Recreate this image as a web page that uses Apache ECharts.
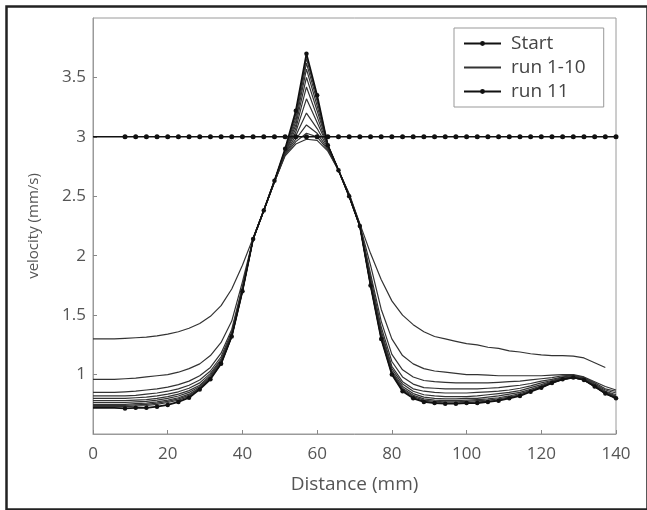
<!DOCTYPE html>
<html>
<head>
<meta charset="utf-8">
<script src="https://cdn.jsdelivr.net/npm/echarts@6/dist/echarts.min.js"></script>
<style>
html,body{margin:0;padding:0;background:#fff;}
#chart{width:647px;height:510px;}
</style>
</head>
<body>
<div id="chart"></div>
<script>
// Distance grid (mm)
const distance = [0,2.86,5.71,8.57,11.43,14.29,17.14,20,22.86,25.71,28.57,31.43,34.29,37.14,40,42.86,45.71,48.57,51.43,54.29,57.14,60,62.86,65.71,68.57,71.43,74.29,77.14,80,82.86,85.71,88.57,91.43,94.29,97.14,100,102.86,105.71,108.57,111.43,114.29,117.14,120,122.86,125.71,128.57,131.43,134.29,137.14,140];

const startVel = [3,3,3,3,3,3,3,3,3,3,3,3,3,3,3,3,3,3,3,3,3,3,3,3,3,3,3,3,3,3,3,3,3,3,3,3,3,3,3,3,3,3,3,3,3,3,3,3,3,3];

const run1 = [1.30,1.30,1.30,1.305,1.31,1.315,1.325,1.34,1.36,1.39,1.43,1.49,1.58,1.72,1.92,2.15,2.38,2.62,2.84,2.94,2.98,2.97,2.88,2.72,2.52,2.27,2.02,1.80,1.62,1.50,1.42,1.36,1.32,1.30,1.28,1.26,1.25,1.23,1.22,1.20,1.19,1.175,1.165,1.16,1.16,1.155,1.14,1.10,1.06,null];
const run2 = [0.96,0.96,0.96,0.965,0.97,0.98,0.99,1.0,1.02,1.05,1.09,1.16,1.27,1.45,1.78,2.14,2.38,2.62,2.85,2.96,3.03,3.0,2.89,2.72,2.52,2.26,1.92,1.55,1.30,1.16,1.09,1.05,1.03,1.02,1.01,1.0,1.0,0.995,0.99,0.99,0.99,0.99,0.99,0.995,1.0,1.0,0.98,0.94,0.90,0.87];
const run3 = [0.85,0.85,0.85,0.855,0.86,0.87,0.88,0.895,0.915,0.945,0.99,1.06,1.18,1.38,1.74,2.14,2.38,2.62,2.86,2.98,3.10,3.03,2.90,2.72,2.51,2.26,1.85,1.45,1.17,1.04,0.98,0.95,0.94,0.935,0.93,0.93,0.93,0.93,0.935,0.94,0.945,0.955,0.965,0.975,0.99,0.995,0.975,0.93,0.88,0.86];
const run4 = [0.82,0.82,0.82,0.82,0.825,0.835,0.845,0.86,0.88,0.91,0.955,1.03,1.15,1.36,1.73,2.14,2.38,2.62,2.86,3.01,3.20,3.07,2.91,2.72,2.51,2.25,1.82,1.40,1.11,0.98,0.92,0.89,0.885,0.88,0.88,0.88,0.88,0.885,0.89,0.90,0.91,0.925,0.945,0.96,0.98,0.99,0.97,0.92,0.87,0.845];
const run5 = [0.80,0.80,0.80,0.80,0.805,0.81,0.82,0.835,0.855,0.885,0.93,1.01,1.13,1.345,1.72,2.14,2.38,2.63,2.87,3.04,3.32,3.12,2.92,2.72,2.50,2.25,1.80,1.37,1.07,0.94,0.88,0.86,0.85,0.845,0.845,0.845,0.85,0.855,0.86,0.87,0.885,0.905,0.93,0.95,0.975,0.985,0.965,0.915,0.86,0.83];
const run6 = [0.78,0.78,0.78,0.78,0.785,0.79,0.80,0.815,0.835,0.865,0.91,0.995,1.12,1.335,1.715,2.14,2.38,2.63,2.87,3.07,3.42,3.17,2.92,2.72,2.50,2.25,1.78,1.35,1.05,0.92,0.86,0.83,0.82,0.815,0.815,0.815,0.82,0.83,0.84,0.85,0.865,0.89,0.915,0.945,0.97,0.98,0.96,0.91,0.855,0.82];
const run7 = [0.765,0.765,0.765,0.765,0.77,0.775,0.785,0.80,0.82,0.85,0.90,0.985,1.11,1.33,1.71,2.14,2.38,2.63,2.88,3.10,3.50,3.22,2.93,2.72,2.50,2.25,1.77,1.33,1.03,0.90,0.84,0.81,0.80,0.795,0.795,0.80,0.80,0.81,0.82,0.835,0.85,0.875,0.905,0.94,0.965,0.98,0.96,0.905,0.85,0.815];
const run8 = [0.75,0.75,0.75,0.75,0.755,0.76,0.77,0.785,0.805,0.835,0.89,0.975,1.10,1.325,1.705,2.14,2.38,2.63,2.88,3.13,3.57,3.26,2.93,2.72,2.50,2.25,1.76,1.32,1.02,0.885,0.825,0.795,0.785,0.78,0.78,0.785,0.79,0.795,0.805,0.82,0.84,0.865,0.90,0.935,0.96,0.975,0.955,0.90,0.845,0.81];
const run9 = [0.74,0.74,0.74,0.74,0.745,0.75,0.76,0.775,0.795,0.825,0.885,0.97,1.095,1.32,1.70,2.14,2.38,2.63,2.89,3.16,3.62,3.30,2.93,2.72,2.50,2.25,1.755,1.31,1.01,0.875,0.815,0.785,0.775,0.77,0.77,0.775,0.78,0.785,0.795,0.81,0.83,0.86,0.895,0.93,0.96,0.975,0.955,0.90,0.84,0.805];
const run10 = [0.73,0.73,0.73,0.73,0.735,0.74,0.75,0.765,0.785,0.815,0.88,0.965,1.09,1.32,1.70,2.14,2.38,2.63,2.89,3.19,3.66,3.33,2.93,2.72,2.50,2.25,1.75,1.305,1.005,0.865,0.805,0.775,0.765,0.76,0.76,0.765,0.77,0.775,0.785,0.805,0.825,0.86,0.89,0.93,0.96,0.975,0.955,0.90,0.84,0.80];
const run11 = [0.72,0.72,0.72,0.715,0.72,0.72,0.73,0.745,0.77,0.805,0.875,0.96,1.09,1.32,1.70,2.14,2.38,2.63,2.90,3.22,3.70,3.35,2.93,2.72,2.50,2.25,1.75,1.30,1.0,0.86,0.80,0.77,0.76,0.755,0.755,0.76,0.76,0.77,0.78,0.80,0.82,0.855,0.89,0.93,0.96,0.975,0.955,0.90,0.84,0.80];

const runs1to10 = [run1,run2,run3,run4,run5,run6,run7,run8,run9,run10];
const legendNames = ['Start','run 1-10','run 11'];
const xTicks = {min:0, max:140, interval:20};
const yTicks = {min:0.5, max:4, interval:0.5};
const markerFrom = 8; // markers on marked series begin near 8-10 mm

const FONT = '"Open Sans", "Noto Sans", sans-serif';

function pairs(vals){ return distance.map((x,i)=>[x, vals[i]]); }
function markedPairs(vals){
  return distance.map((x,i)=> x < markerFrom ? {value:[x,vals[i]], symbol:'none'} : [x, vals[i]]);
}

const series = [];
runs1to10.forEach(r => {
  series.push({
    name:'run 1-10', type:'line', data:pairs(r), symbol:'none', showSymbol:false,
    lineStyle:{color:'#333', width:1.2}, itemStyle:{color:'#333'}, z:2
  });
});
series.push({
  name:'run 11', type:'line', data:markedPairs(run11), symbol:'circle', symbolSize:4.5, showSymbol:true,
  lineStyle:{color:'#111', width:1.7}, itemStyle:{color:'#111'}, z:3
});
series.push({
  name:'Start', type:'line', data:markedPairs(startVel), symbol:'circle', symbolSize:5, showSymbol:true,
  lineStyle:{color:'#111', width:1.5}, itemStyle:{color:'#111'}, z:4
});

const chart = echarts.init(document.getElementById('chart'), null, {renderer:'canvas'});
chart.setOption({
  animation:false,
  backgroundColor:'#fff',
  graphic:[{
    type:'rect', left:4, top:4, shape:{x:0,y:0,width:641,height:503},
    style:{fill:'none', stroke:'#222', lineWidth:2.5}, silent:true, z:100
  }],
  grid:{left:93, right:31, top:18, bottom:76, show:true, borderColor:'#9a9a9a', borderWidth:1, backgroundColor:'#fff'},
  legend:{
    data:[
      {name:legendNames[0]},
      {name:legendNames[1], itemStyle:{color:'rgba(0,0,0,0)', borderWidth:0}},
      {name:legendNames[2]}
    ],
    orient:'vertical', left:454, top:28,
    padding:[6,18,6,9], itemGap:5, itemWidth:37, itemHeight:6,
    backgroundColor:'#fff', borderColor:'#999', borderWidth:1,
    textStyle:{fontFamily:FONT, fontSize:19, color:'#444', padding:[0,0,0,5]}
  },
  xAxis:{
    type:'value', min:xTicks.min, max:xTicks.max, interval:xTicks.interval,
    name:'Distance (mm)', nameLocation:'middle', nameGap:41,
    nameTextStyle:{fontFamily:FONT, fontSize:19, color:'#555'},
    axisLine:{show:true, lineStyle:{color:'#9a9a9a', width:1}},
    axisTick:{show:true, inside:true, length:4, lineStyle:{color:'#888'}},
    axisLabel:{fontFamily:FONT, fontSize:17, color:'#555', margin:12},
    splitLine:{show:false}
  },
  yAxis:{
    type:'value', min:yTicks.min, max:yTicks.max, interval:yTicks.interval,
    name:'velocity (mm/s)', nameLocation:'middle', nameGap:52,
    nameTextStyle:{fontFamily:FONT, fontSize:15, color:'#555'},
    axisLine:{show:true, lineStyle:{color:'#9a9a9a', width:1}},
    axisTick:{show:true, inside:true, length:4, lineStyle:{color:'#888'}},
    axisLabel:{fontFamily:FONT, fontSize:17, color:'#555', margin:7, showMinLabel:false, showMaxLabel:false},
    splitLine:{show:false}
  },
  series:series
});
</script>
</body>
</html>
